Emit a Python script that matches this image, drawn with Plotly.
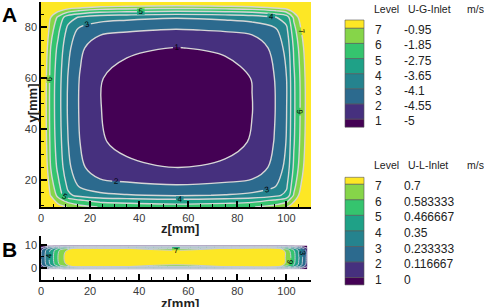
import numpy as np
import plotly.graph_objects as go

W, H = 484, 307

# ---------------- Panel A : U-G-Inlet (m/s) ----------------
ug_levels = [-5, -4.55, -4.1, -3.65, -2.75, -1.85, -0.95]
ug_level_text = ["-5", "-4.55", "-4.1", "-3.65", "-2.75", "-1.85", "-0.95"]
ug_z = [0, 2, 4, 7, 11, 16, 24, 35, 55, 75, 86, 95, 100, 103, 106, 108, 110]
ug_y = [9.4, 10.5, 12, 14, 18, 25, 35, 48, 60, 72, 79, 84, 86.5, 88.5, 90]
ug_field = [
    [-0.1, -0.1, -0.1, -0.37, -1.04, -1.5, -1.9, -2.05, -2.21, -2.08, -1.91, -1.48, -1.02, -0.19, -0.1, -0.1, -0.1],
    [-0.1, -0.1, -0.1, -0.91, -1.58, -2.04, -2.44, -2.59, -2.74, -2.62, -2.45, -2.02, -1.56, -0.64, -0.1, -0.1, -0.1],
    [-0.1, -0.1, -0.41, -1.49, -2.21, -2.67, -3.07, -3.22, -3.38, -3.25, -3.08, -2.65, -2.19, -1.13, -0.1, -0.1, -0.1],
    [-0.1, -0.1, -1.04, -2.12, -3.47, -3.79, -3.99, -4.07, -4.15, -4.08, -3.99, -3.78, -3.43, -1.76, -0.5, -0.1, -0.1],
    [-0.1, -0.1, -1.45, -2.53, -3.76, -4.2, -4.39, -4.47, -4.54, -4.48, -4.4, -4.19, -3.74, -2.17, -0.91, -0.1, -0.1],
    [-0.1, -0.55, -1.9, -2.98, -3.99, -4.45, -4.84, -4.92, -5.01, -4.93, -4.85, -4.43, -3.97, -2.6, -1.36, -0.5, -0.1],
    [-0.32, -0.77, -2.12, -3.2, -4.09, -4.56, -4.96, -5.11, -5.23, -5.14, -4.97, -4.54, -4.08, -2.84, -1.58, -0.73, -0.32],
    [-0.41, -0.86, -2.21, -3.29, -4.15, -4.61, -4.99, -5.16, -5.32, -5.18, -5.01, -4.59, -4.12, -2.93, -1.67, -0.82, -0.41],
    [-0.37, -0.82, -2.17, -3.25, -4.12, -4.59, -4.98, -5.14, -5.27, -5.16, -4.99, -4.56, -4.11, -2.89, -1.63, -0.77, -0.37],
    [-0.1, -0.55, -1.9, -2.98, -3.99, -4.46, -4.85, -4.93, -5.01, -4.94, -4.86, -4.43, -3.97, -2.62, -1.37, -0.51, -0.1],
    [-0.1, -0.13, -1.48, -2.56, -3.78, -4.23, -4.42, -4.5, -4.58, -4.51, -4.43, -4.22, -3.76, -2.2, -0.94, -0.1, -0.1],
    [-0.1, -0.1, -0.94, -2.03, -3.29, -3.7, -3.9, -3.98, -4.06, -3.99, -3.9, -3.69, -3.27, -1.67, -0.41, -0.1, -0.1],
    [-0.1, -0.1, -0.1, -0.82, -1.49, -1.95, -2.35, -2.5, -2.66, -2.53, -2.36, -1.93, -1.47, -0.64, -0.1, -0.1, -0.1],
    [-0.1, -0.1, -0.1, -0.1, -0.1, -0.24, -0.64, -0.79, -0.96, -0.82, -0.65, -0.22, -0.1, -0.1, -0.1, -0.1, -0.1],
    [-0.1, -0.1, -0.1, -0.1, -0.1, -0.1, -0.1, -0.25, -0.41, -0.27, -0.1, -0.1, -0.1, -0.1, -0.1, -0.1, -0.1],
]

# ---------------- Panel B : U-L-Inlet (m/s) ----------------
ul_levels = [0, 0.116667, 0.233333, 0.35, 0.466667, 0.583333, 0.7]
ul_level_text = ["0", "0.116667", "0.233333", "0.35", "0.466667", "0.583333", "0.7"]
ul_z = [0, 1.5, 3, 4.5, 6, 7.5, 9, 10.5, 55, 99, 100.5, 102, 103.5, 105, 106.5, 108.5]
ul_y = [-0.4, 0.2, 0.8, 1.6, 4.5, 7.7, 8.5, 9.2, 9.8]
ul_field = [
    [-0.25, -0.2, -0.15, -0.12, -0.08, -0.05, -0.03, -0.03, -0.03, -0.03, -0.04, -0.06, -0.09, -0.13, -0.18, -0.25],
    [-0.065, 0.01, 0.09, 0.155, 0.225, 0.285, 0.33, 0.35, 0.36, 0.345, 0.31, 0.255, 0.19, 0.115, 0.03, -0.085],
    [0.046, 0.136, 0.236, 0.32, 0.408, 0.486, 0.546, 0.578, 0.594, 0.57, 0.52, 0.444, 0.358, 0.262, 0.156, 0.014],
    [0.10, 0.199, 0.306, 0.403, 0.50, 0.587, 0.654, 0.701, 0.711, 0.703, 0.625, 0.539, 0.442, 0.336, 0.219, 0.064],
    [0.12, 0.22, 0.33, 0.43, 0.53, 0.62, 0.69, 0.73, 0.75, 0.72, 0.66, 0.57, 0.47, 0.36, 0.24, 0.08],
    [0.10, 0.199, 0.306, 0.403, 0.50, 0.587, 0.654, 0.701, 0.711, 0.703, 0.625, 0.539, 0.442, 0.336, 0.219, 0.064],
    [0.046, 0.136, 0.236, 0.32, 0.408, 0.486, 0.546, 0.578, 0.594, 0.57, 0.52, 0.444, 0.358, 0.262, 0.156, 0.014],
    [-0.065, 0.01, 0.09, 0.155, 0.225, 0.285, 0.33, 0.35, 0.36, 0.345, 0.31, 0.255, 0.19, 0.115, 0.03, -0.085],
    [-0.25, -0.2, -0.15, -0.12, -0.08, -0.05, -0.03, -0.03, -0.03, -0.03, -0.04, -0.06, -0.09, -0.13, -0.18, -0.25],
]

band_colors = ["#440154", "#46307e", "#2c6a8e", "#25838e", "#1fa187", "#35c46e", "#86d549", "#fde725"]

FONT = "Liberation Sans, Arial, sans-serif"


def to_index(values, levels):
    """Map physical values onto level-number space (1..7), extrapolating outside."""
    v = np.asarray(values, float)
    lv = np.asarray(levels, float)
    idx = np.arange(1, len(lv) + 1, dtype=float)
    out = np.interp(v, lv, idx)
    lo = v < lv[0]
    out[lo] = 1 - (lv[0] - v[lo]) / (lv[1] - lv[0])
    hi = v > lv[-1]
    out[hi] = len(lv) + (v[hi] - lv[-1]) / (lv[-1] - lv[-2])
    return out


n = len(band_colors) - 1
colorscale = []
for k, c in enumerate(band_colors):
    colorscale.append([max(0.0, (k - 0.5) / n), c])
    colorscale.append([min(1.0, (k + 0.5) / n), c])

contour_style = dict(
    start=1, end=7, size=1, coloring="fill", showlabels=True,
    labelfont=dict(size=8, color="black", family=FONT), labelformat=".0f",
)

fig = go.Figure()
fig.add_trace(go.Contour(
    x=ug_z, y=ug_y, z=to_index(ug_field, ug_levels), colorscale=colorscale,
    autocontour=False, contours=contour_style, showscale=False,
    line=dict(color="#d6d6d6", width=1.4), hoverinfo="skip", xaxis="x", yaxis="y",
))
fig.add_trace(go.Contour(
    x=ul_z, y=ul_y, z=to_index(ul_field, ul_levels), colorscale=colorscale,
    autocontour=False, contours=contour_style, showscale=False,
    line=dict(color="#c3cbd6", width=1.0), hoverinfo="skip", xaxis="x2", yaxis="y2",
))


def px(x):
    return x / W


def py(y):
    return 1 - y / H


axis_common = dict(
    showline=True, linecolor="black", linewidth=1.5, mirror=False,
    ticks="inside", ticklen=6, tickwidth=1.5, tickcolor="black",
    tickfont=dict(size=11, color="#3a3a3a", family=FONT),
    showgrid=False, zeroline=False, automargin=False,
    minor=dict(ticks="inside", ticklen=3, tickwidth=1, tickcolor="black", dtick=5),
)

fig.update_layout(
    template="none",
    width=W, height=H, margin=dict(l=0, r=0, t=0, b=0, autoexpand=False),
    paper_bgcolor="white", plot_bgcolor="white", showlegend=False,
    font=dict(family=FONT),
    xaxis=dict(domain=[px(41), px(311)], range=[0, 110], anchor="y",
               tick0=0, dtick=20, **axis_common),
    yaxis=dict(domain=[py(207), py(2)], range=[9.4, 90], anchor="x",
               tick0=0, dtick=20, **axis_common),
    xaxis2=dict(domain=[px(41), px(311)], range=[0, 110], anchor="y2",
                tick0=0, dtick=20, **axis_common),
    yaxis2=dict(domain=[py(280), py(235.7)], range=[-5, 14], anchor="x2",
                tick0=0, dtick=10, **axis_common),
)

ann = []
shapes = []


def text(x, y, s, size=12, xanchor="left", bold=False, angle=0, color="#222"):
    ann.append(dict(
        x=px(x), y=py(y), xref="paper", yref="paper", text=f"<b>{s}</b>" if bold else s,
        showarrow=False, xanchor=xanchor, yanchor="middle", textangle=angle,
        font=dict(size=size, color=color, family=FONT),
    ))


text(9.5, 14, "A", size=21, xanchor="center", bold=True, color="black")
text(9.5, 249.5, "B", size=21, xanchor="center", bold=True, color="black")
text(180, 228, "z[mm]", size=13, xanchor="center", bold=True, color="#222")
text(180, 303, "z[mm]", size=13, xanchor="center", bold=True, color="#222")
text(32, 103.5, "y[mm]", size=13, xanchor="center", bold=True, angle=-90, color="#222")


def legend(top, first_h, step, last_h, title_y, name, level_text):
    text(372, title_y, "Level", size=10.5)
    text(406, title_y, name, size=10.5)
    text(464.5, title_y, "m/s", size=10.5)
    bounds = [top, top + first_h]
    for _ in range(6):
        bounds.append(bounds[-1] + step)
    bounds.append(bounds[-1] + last_h)
    for i in range(8):
        shapes.append(dict(
            type="rect", xref="paper", yref="paper",
            x0=px(345), x1=px(364), y0=py(bounds[i + 1]), y1=py(bounds[i]),
            fillcolor=band_colors[7 - i], line=dict(color="#555", width=0.6),
        ))
    for i in range(7):
        lvl = 7 - i
        yb = bounds[i + 1] + 2
        text(373, yb, str(lvl), size=12)
        text(402, yb, level_text[lvl - 1], size=12)


legend(20, 8.3, 15.15, 8.0, 8.5, "U-G-Inlet", ug_level_text)
legend(177.3, 7.0, 15.55, 7.3, 165, "U-L-Inlet", ul_level_text)

fig.update_layout(annotations=ann, shapes=shapes)
fig.write_html(
    "out.html",
    config={"displayModeBar": False},
    post_script="document.body.style.margin='0';document.body.style.padding='0';",
)
